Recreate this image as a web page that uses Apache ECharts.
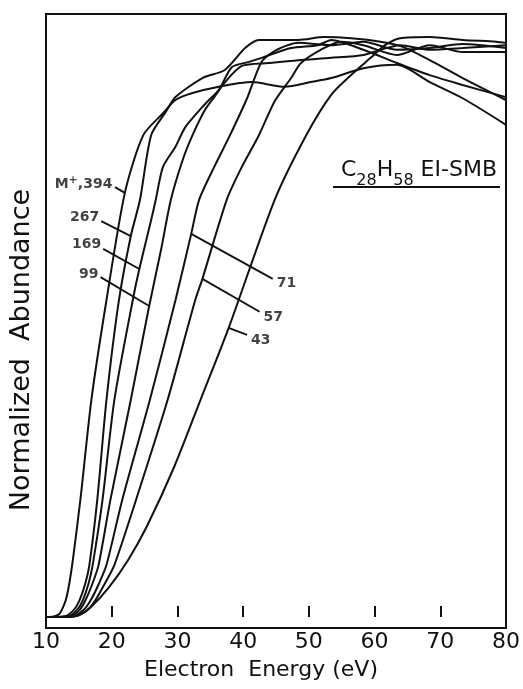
<!DOCTYPE html>
<html><head><meta charset="utf-8">
<script src="https://cdn.jsdelivr.net/npm/echarts@6/dist/echarts.min.js"></script>
<style>html,body{margin:0;padding:0;background:#fff}#c{width:523px;height:689px}</style>
</head><body><div id="c"></div>
<script>
// ---- data (Electron energy eV, normalized abundance) ----
const xTicks = [10, 20, 30, 40, 50, 60, 70, 80];
const curveM394 = [[10,0],[11.2,0.001],[12.0,0.005],[12.4,0.012],[13.0,0.029],[13.5,0.055],[14.1,0.100],[15.3,0.210],[16.9,0.376],[19.2,0.549],[22.0,0.735],[24.8,0.835],[27.8,0.873],[29.7,0.896],[32.3,0.908],[36.3,0.919],[41.3,0.927],[46.3,0.919],[50.3,0.927],[53.4,0.934],[58.3,0.951],[63.4,0.957],[68.4,0.927],[73.4,0.899],[80,0.853]];
const curve267 = [[10,0],[12.8,0.001],[14.2,0.012],[15.1,0.029],[16.0,0.059],[16.6,0.090],[17.8,0.203],[19.2,0.376],[21.1,0.549],[22.9,0.660],[24.3,0.723],[26.0,0.835],[28.2,0.875],[29.7,0.901],[33.8,0.934],[37.2,0.948],[40.3,0.986],[42.4,1.0],[46.3,1.0],[48.4,1.0],[52.3,1.005],[56.4,1.003],[60.9,0.997],[64.3,0.988],[68.4,0.965],[73.4,0.934],[80,0.896]];
const curve169 = [[10,0],[13.3,0.001],[14.7,0.012],[15.6,0.029],[16.5,0.059],[17.1,0.090],[18.6,0.203],[20.4,0.376],[23.2,0.549],[24.2,0.603],[26.0,0.688],[26.7,0.723],[27.8,0.780],[29.7,0.815],[31.2,0.849],[33.8,0.884],[34.8,0.896],[36.3,0.913],[38.3,0.953],[40.9,0.962],[42.8,0.969],[47.3,0.986],[51.4,0.991],[53.4,1.0],[58.3,0.983],[63.4,0.960],[68.4,0.939],[73.4,0.922],[80,0.901]];
const curve99 = [[10,0],[13.6,0.001],[15.1,0.012],[16.0,0.029],[17.1,0.059],[18.0,0.090],[19.8,0.203],[22.9,0.376],[25.7,0.539],[27.5,0.636],[29.0,0.723],[30.8,0.792],[32.3,0.835],[34.2,0.879],[35.6,0.901],[37.1,0.925],[39.8,0.955],[43.9,0.960],[48.4,0.965],[53.4,0.969],[58.3,0.974],[63.9,0.991],[68.4,0.983],[73.4,0.986],[80,0.991]];
const curve71 = [[10,0],[14.0,0.001],[15.7,0.012],[16.8,0.029],[18.1,0.059],[19.2,0.090],[21.6,0.203],[25.8,0.376],[29.7,0.549],[32.1,0.664],[33.3,0.723],[35.6,0.780],[38.0,0.835],[40.6,0.899],[42.8,0.962],[45.1,0.983],[48.4,0.995],[53.4,0.991],[58.3,0.997],[63.4,0.983],[68.4,0.986],[73.4,0.993],[80,0.986]];
const curve57 = [[10,0],[14.3,0.001],[16.3,0.012],[17.5,0.029],[19.0,0.059],[20.4,0.090],[23.7,0.203],[28.5,0.376],[32.7,0.549],[33.8,0.586],[37.5,0.723],[39.8,0.780],[42.4,0.835],[44.8,0.894],[47.3,0.934],[48.8,0.960],[51.8,0.983],[54.9,0.997],[58.3,0.991],[63.4,0.974],[68.4,0.991],[73.4,0.979],[80,0.979]];
const curve43 = [[10,0],[14.0,0.001],[15.0,0.003],[16.8,0.017],[19.6,0.052],[22.5,0.099],[25.3,0.156],[29.5,0.260],[33.5,0.376],[37.8,0.501],[44.8,0.723],[49.6,0.835],[53.4,0.905],[56.4,0.939],[59.4,0.969],[61.6,0.991],[63.9,1.003],[68.4,1.005],[73.4,1.0],[78.5,0.997],[80,0.995]];

// ---- annotations (data coordinates) ----
const labelTexts = ['{m|M}{p|+}{m|,394}', '267', '169', '99', '71', '57', '43'];
const labelAnchors = [[20.1,0.750],[18.1,0.693],[18.4,0.645],[18.0,0.594],[45.1,0.579],[43.1,0.520],[41.2,0.480]];
const leaderLines = [
  [[20.5,0.745],[22.0,0.735]],
  [[18.4,0.686],[22.9,0.660]],
  [[18.7,0.638],[24.2,0.603]],
  [[18.3,0.589],[25.7,0.539]],
  [[32.1,0.664],[44.5,0.586]],
  [[33.8,0.586],[42.5,0.529]],
  [[37.8,0.501],[40.6,0.489]]
];

const INK = '#111111';
const FONT = 'DejaVu Sans';
const curves = [curveM394, curve267, curve169, curve99, curve71, curve57, curve43];

const series = [];
curves.forEach(c => series.push({
  type: 'line', data: c, smooth: 0.25, showSymbol: false, silent: true,
  lineStyle: { color: INK, width: 2 }
}));
leaderLines.forEach(l => series.push({
  type: 'line', data: l, showSymbol: false, silent: true,
  lineStyle: { color: INK, width: 1.8 }
}));
series.push({
  type: 'scatter', symbolSize: 0, silent: true,
  data: labelAnchors.map((p, i) => ({ value: p, label: {
    show: true, formatter: labelTexts[i],
    position: 'inside', align: i < 4 ? 'right' : 'left', verticalAlign: 'middle',
    fontSize: 14, fontWeight: 'bold', color: INK, fontFamily: FONT,
    rich: { m: { fontSize: 14, fontWeight: 'bold', color: INK, fontFamily: FONT }, p: { fontSize: 11, fontWeight: 'bold', color: INK, fontFamily: FONT, padding: [0,0,8,0] } }
  }}))
});

const chart = echarts.init(document.getElementById('c'), null, { renderer: 'canvas' });
chart.setOption({
  backgroundColor: '#fff',
  animation: false,
  title: {
    text: '{a|C}{s|28}{a|H}{s|58}{a| EI-SMB}',
    left: 336, top: 154,
    textStyle: {
      fontWeight: 'normal',
      rich: {
        a: { fontSize: 22, fontWeight: 'normal', fontFamily: FONT, color: INK, lineHeight: 30, verticalAlign: 'top' },
        s: { fontSize: 16, fontWeight: 'normal', fontFamily: FONT, color: INK, lineHeight: 30, verticalAlign: 'bottom' }
      }
    }
  },
  graphic: [{ type: 'line', shape: { x1: 333, y1: 187, x2: 500, y2: 187 }, style: { stroke: INK, lineWidth: 2 } }],
  grid: { left: 42, right: 16, top: 14, bottom: 61, show: true, borderColor: INK, borderWidth: 2, backgroundColor: 'transparent' },
  xAxis: {
    type: 'value', min: 10, max: 80, interval: 10,
    axisLine: { show: false },
    axisTick: { show: true, inside: true, length: 11, lineStyle: { color: INK, width: 2 } },
    splitLine: { show: false },
    axisLabel: { fontSize: 22, color: INK, fontFamily: FONT, margin: 3,
      formatter: v => xTicks.indexOf(v) >= 0 ? String(v) : '' },
    name: 'Electron  Energy (eV)', nameLocation: 'middle', nameGap: 31,
    nameTextStyle: { fontSize: 22, color: INK, fontFamily: FONT, padding: [0, 30, 0, 0] }
  },
  yAxis: {
    type: 'value', min: -0.019, max: 1.045,
    axisLine: { show: false }, axisTick: { show: false }, axisLabel: { show: false }, splitLine: { show: false },
    name: 'Normalized  Abundance', nameLocation: 'middle', nameGap: 11,
    nameTextStyle: { fontSize: 27, color: INK, fontFamily: FONT, padding: [0, 58, 0, 0] }
  },
  series: series
});
</script></body></html>
